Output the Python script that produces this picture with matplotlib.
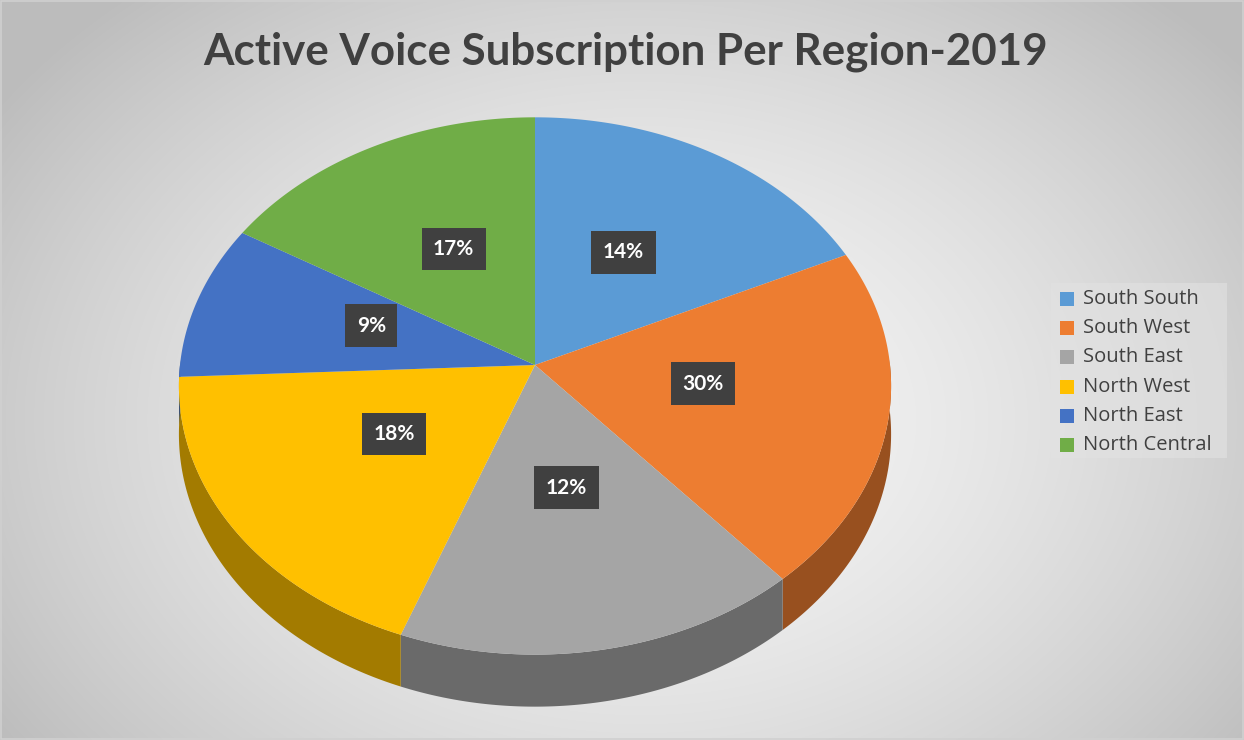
import numpy as np
import matplotlib
matplotlib.use("Agg")
import matplotlib.pyplot as plt
from matplotlib.patches import Polygon, Rectangle
import matplotlib.colors as mcolors

# data (slice sizes as drawn, labels as printed on the chart)
regions = ['South South', 'South West', 'South East', 'North West', 'North East', 'North Central']
shares = [18.0, 20.6, 17.1, 18.6, 9.3, 16.4]
labels = ['14%', '30%', '12%', '18%', '9%', '17%']
colors = ['#5B9BD5', '#ED7D31', '#A5A5A5', '#FFC000', '#4472C4', '#70AD47']
title = 'Active Voice Subscription Per Region-2019'

W, H = 1244, 740
fig = plt.figure(figsize=(W / 100, H / 100), dpi=100)
ax = fig.add_axes([0, 0, 1, 1])
ax.set_xlim(0, W)
ax.set_ylim(H, 0)
ax.axis('off')

# radial gradient background
yy, xx = np.mgrid[0:H, 0:W]
d = np.sqrt(((xx - 640) / 760.0) ** 2 + ((yy - 420) / 560.0) ** 2)
g = np.clip(0.965 - 0.22 * d ** 1.6, 0.74, 0.97)
ax.imshow(np.dstack([g, g, g]), extent=(0, W, H, 0), zorder=0, interpolation='bilinear')
ax.add_patch(Rectangle((1, 1), W - 2, H - 2, fill=False, ec='#D0D0D0', lw=1.2, zorder=1))

# pseudo-3D projection of the pie
cx, cy = 535, 365
B, A, k, T = 355, 267, 0.078, 48


def proj(phi, r=1.0, bottom=False):
    x = r * np.cos(phi)
    v = -r * np.sin(phi)
    s = 1.0 / (1 - k * v)
    px = cx + B * x * s
    py = cy + A * v * s
    if bottom:
        py = py + T * s
    return px, py


def darker(c, f):
    r, g_, b = mcolors.to_rgb(c)
    return (r * f, g_ * f, b * f)


total = float(sum(shares))
bounds = []
a = np.pi / 2
for s in shares:
    a2 = a - 2 * np.pi * s / total
    bounds.append((a, a2))
    a = a2

# side walls (front half only)
for (a1, a2), c in zip(bounds, colors):
    phis = np.linspace(a2, a1, 300)
    vis = np.sin(phis) < 0.02
    if not vis.any():
        continue
    ph = phis[vis]
    tx, ty = proj(ph)
    bx, by = proj(ph, bottom=True)
    pts = np.vstack([np.column_stack([tx, ty]), np.column_stack([bx, by])[::-1]])
    ax.add_patch(Polygon(pts, closed=True, fc=darker(c, 0.64), ec='none', zorder=2))

# top faces
for (a1, a2), c in zip(bounds, colors):
    ph = np.linspace(a1, a2, 200)
    tx, ty = proj(ph)
    pts = np.vstack([[cx, cy], np.column_stack([tx, ty])])
    ax.add_patch(Polygon(pts, closed=True, fc=c, ec='none', zorder=3))

# data labels
for (a1, a2), lab in zip(bounds, labels):
    mid = (a1 + a2) / 2
    lx, ly = proj(mid, r=0.48)
    ax.text(lx, ly - 8, lab, ha='center', va='center', color='white', fontsize=15,
            fontweight='bold', family='Lato', zorder=5,
            bbox=dict(boxstyle='square,pad=0.55', fc='#404040', ec='none'))

# title
ax.text(626, 52, title, ha='center', va='center', fontsize=31.6, fontweight='bold',
        family='Lato', color='#404040', zorder=5)

# legend
ax.add_patch(Rectangle((1051, 283), 176, 175, fc='#E2E2E2', ec='none', alpha=0.6, zorder=4))
for i, (name, c) in enumerate(zip(regions, colors)):
    y = 299 + i * 29.2
    ax.add_patch(Rectangle((1060, y - 7), 14, 14, fc=c, ec='none', zorder=5))
    ax.text(1083, y, name, ha='left', va='center', fontsize=14.5, family='Open Sans',
            color='#404040', zorder=5)

fig.savefig('out.png', dpi=100)
